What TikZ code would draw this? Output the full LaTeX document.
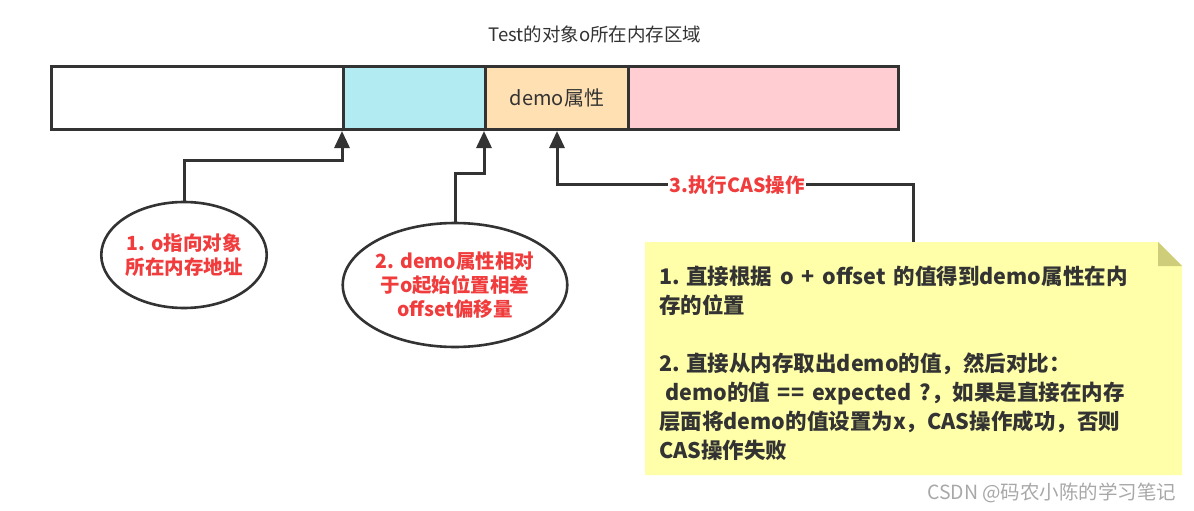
\documentclass[tikz,border=0pt]{standalone}
\usepackage{fontspec}
\setmainfont{Noto Sans CJK SC}
\usetikzlibrary{arrows.meta,shapes.geometric}
\definecolor{cellcyan}{HTML}{B2EBF2}
\definecolor{cellorange}{HTML}{FFE0B2}
\definecolor{cellpink}{HTML}{FFCDD2}
\definecolor{notefill}{HTML}{FFFFAA}
\definecolor{notefold}{HTML}{CDCD7A}
\definecolor{ink}{HTML}{333333}
\definecolor{redtxt}{HTML}{F03C3C}
\definecolor{wm}{HTML}{A8A8A8}
\tikzset{
  cell/.style={draw=ink, line width=3pt, inner sep=0pt, minimum height=63pt, anchor=north west},
  oval/.style={ellipse, draw=ink, line width=2.6pt, inner sep=0pt, fill=white, align=center,
    text=redtxt, font=\fontsize{19.5}{24}\selectfont\bfseries},
  arr/.style={draw=ink, line width=3pt, -{Triangle[length=17pt,width=15pt]}},
}
\begin{document}
\begin{tikzpicture}[x=1pt,y=-1pt]
\useasboundingbox (0,0) rectangle (1194,511);
% title
\node[text=ink, font=\fontsize{18.5}{22}\selectfont] (title) at (595,34) {Test的对象o所在内存区域};
% bar cells
\node[cell, fill=white, minimum width=292pt] (c1) at (50,65) {};
\node[cell, fill=cellcyan, minimum width=142pt] (c2) at (342,65) {};
\node[cell, fill=cellorange, minimum width=143pt, text=ink, font=\fontsize{20}{24}\selectfont] (c3) at (484,65) {demo属性};
\node[cell, fill=cellpink, minimum width=270pt] (c4) at (627,65) {};
% ellipses
\node[oval, minimum width=150pt, minimum height=106pt] (e1) at (184,255) {1. o指向对象\\所在内存地址};
\node[oval, minimum width=192pt, minimum height=124pt] (e2) at (455,285) {2. demo属性相对\\于o起始位置相差\\offset偏移量};
% note
\fill[notefill] (645,242) -- (1158,242) -- (1182,266) -- (1182,475) -- (645,475) -- cycle;
\fill[notefold] (1158,242) -- (1158,266) -- (1182,266) -- cycle;
\coordinate (nt) at (913,242);
\node[anchor=north west, inner sep=0pt, align=left, text=ink, font=\fontsize{21.5}{29}\selectfont\bfseries] (notetext) at (659,266)
{1. 直接根据\hspace{3pt} o\hspace{3pt} +\hspace{3pt} offset\hspace{3pt} 的值得到demo属性在内\\
存的位置\\[29pt]
2. 直接从内存取出demo的值，然后对比：\\
\hspace*{6pt}demo的值\hspace{3pt} ==\hspace{3pt} expected\hspace{3pt} ?，如果是直接在内存\\
层面将demo的值设置为x，CAS操作成功，否则\\
CAS操作失败};
% connectors
\draw[arr] (e1.north) -- ++(0,-40) -| (c2.south west);
\draw[arr] (e2.north) -- ++(0,-48) -| (c3.south west);
\draw[arr] (nt) -- ++(0,-58) -| (c3.south);
\node[fill=white, inner sep=1pt, text=redtxt, font=\fontsize{19.5}{22}\selectfont\bfseries] (lbl3) at (737,185) {3.执行CAS操作};
% watermark
\node[anchor=east, text=wm, font=\fontsize{19.5}{22}\selectfont] (wmk) at (1180,493) {CSDN @码农小陈的学习笔记};
\end{tikzpicture}
\end{document}
